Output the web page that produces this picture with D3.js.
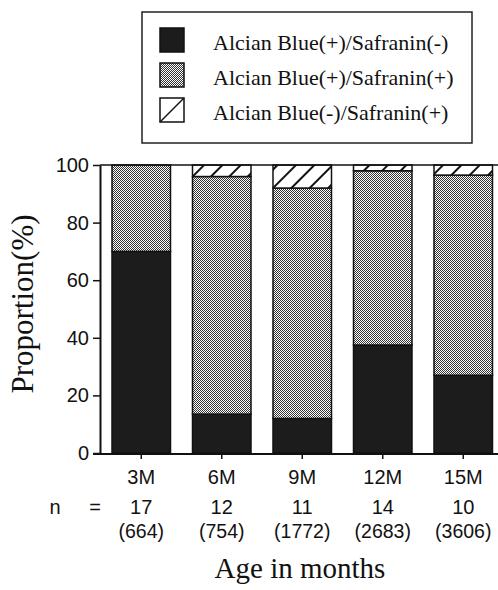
<!DOCTYPE html>
<html>
<head>
<meta charset="utf-8">
<script src="https://cdn.jsdelivr.net/npm/d3@7"></script>
<style>
  html, body { margin: 0; padding: 0; background: #fff; }
  svg { display: block; }
</style>
</head>
<body>
<div id="chart"></div>
<script>
// values (percent of cells)
const months = ['3M', '6M', '9M', '12M', '15M'];
const blueOnly = [70, 13.5, 12, 37.5, 27];      // Alcian Blue(+)/Safranin(-)
const bothPos = [30, 82.5, 80, 60.5, 69.5];     // Alcian Blue(+)/Safranin(+)
const safOnly = [0, 4, 8, 2, 3.5];              // Alcian Blue(-)/Safranin(+)
const nAnimals = [17, 12, 11, 14, 10];
const nCells = [664, 754, 1772, 2683, 3606];
const yTicks = [0, 20, 40, 60, 80, 100];
const legendLabels = [
  'Alcian Blue(+)/Safranin(-)',
  'Alcian Blue(+)/Safranin(+)',
  'Alcian Blue(-)/Safranin(+)'
];

const width = 498, height = 590;
const sans = 'Liberation Sans, Arial, sans-serif';
const serif = 'Liberation Serif, Times New Roman, serif';

const svg = d3.select('#chart').append('svg')
  .attr('width', width)
  .attr('height', height);

const defs = svg.append('defs');

// fine black/white checker for the dotted series
const dots = defs.append('pattern')
  .attr('id', 'dots')
  .attr('patternUnits', 'userSpaceOnUse')
  .attr('width', 2).attr('height', 2);
dots.append('rect').attr('width', 2).attr('height', 2).attr('fill', '#fff');
dots.append('rect').attr('width', 1).attr('height', 1).attr('fill', '#333');
dots.append('rect').attr('x', 1).attr('y', 1).attr('width', 1).attr('height', 1).attr('fill', '#333');

const hatch = defs.append('pattern')
  .attr('id', 'hatch')
  .attr('patternUnits', 'userSpaceOnUse')
  .attr('width', 13).attr('height', 13)
  .attr('patternTransform', 'rotate(45)');
hatch.append('rect').attr('width', 13).attr('height', 13).attr('fill', '#fff');
hatch.append('line')
  .attr('x1', 1).attr('x2', 1).attr('y1', 0).attr('y2', 13)
  .attr('stroke', '#111').attr('stroke-width', 2);

const fills = ['#1c1c1c', 'url(#dots)', 'url(#hatch)'];

const x = d3.scaleBand()
  .domain(months)
  .range([112, 492.5])
  .paddingInner(0.2733)
  .paddingOuter(0);

const y = d3.scaleLinear()
  .domain([0, 100])
  .range([453, 165]);

const rows = months.map((m, i) => ({
  month: m, a: blueOnly[i], b: bothPos[i], c: safOnly[i]
}));
const series = d3.stack().keys(['a', 'b', 'c'])(rows);

// stacked bars
svg.append('g')
  .selectAll('g')
  .data(series)
  .join('g')
  .attr('fill', (d, i) => fills[i])
  .selectAll('rect')
  .data(d => d.filter(s => s[1] - s[0] > 0))
  .join('rect')
  .attr('x', d => x(d.data.month))
  .attr('width', x.bandwidth())
  .attr('y', d => y(d[1]))
  .attr('height', d => y(d[0]) - y(d[1]))
  .attr('stroke', '#111')
  .attr('stroke-width', 1.5);

// frame line along 100% and the baseline
svg.append('line')
  .attr('x1', 100).attr('x2', width)
  .attr('y1', y(100)).attr('y2', y(100))
  .attr('stroke', '#111').attr('stroke-width', 1.5);
svg.append('line')
  .attr('x1', 93).attr('x2', width)
  .attr('y1', y(0) + 1).attr('y2', y(0) + 1)
  .attr('stroke', '#111').attr('stroke-width', 2);

// y axis
const yAxis = svg.append('g')
  .attr('transform', 'translate(100,0)')
  .call(d3.axisLeft(y).tickValues(yTicks).tickSize(7).tickSizeOuter(0).tickPadding(4));
yAxis.select('.domain').attr('stroke', '#111').attr('stroke-width', 2);
yAxis.selectAll('line').attr('stroke', '#111').attr('stroke-width', 1.5);
yAxis.selectAll('text')
  .attr('font-family', sans)
  .attr('font-size', 20)
  .attr('fill', '#111');

// x axis
const xAxis = svg.append('g')
  .attr('transform', `translate(0,${y(0) + 1})`)
  .call(d3.axisBottom(x).tickSize(5).tickSizeOuter(0).tickPadding(11));
xAxis.select('.domain').remove();
xAxis.selectAll('line').attr('stroke', '#111').attr('stroke-width', 1.5);
xAxis.selectAll('text')
  .attr('font-family', sans)
  .attr('font-size', 20)
  .attr('fill', '#111');

// n row
const cx = m => x(m) + x.bandwidth() / 2;
svg.append('text').attr('x', 55).attr('y', 514).attr('text-anchor', 'middle')
  .attr('font-family', sans).attr('font-size', 20).attr('fill', '#111').text('n');
svg.append('text').attr('x', 95).attr('y', 514).attr('text-anchor', 'middle')
  .attr('font-family', sans).attr('font-size', 20).attr('fill', '#111').text('=');
svg.append('g')
  .selectAll('text')
  .data(months)
  .join('text')
  .attr('x', d => cx(d))
  .attr('y', 514)
  .attr('text-anchor', 'middle')
  .attr('font-family', sans).attr('font-size', 20).attr('fill', '#111')
  .text((d, i) => nAnimals[i]);
svg.append('g')
  .selectAll('text')
  .data(months)
  .join('text')
  .attr('x', d => cx(d))
  .attr('y', 538)
  .attr('text-anchor', 'middle')
  .attr('font-family', sans).attr('font-size', 19.5).attr('fill', '#111')
  .text((d, i) => `(${nCells[i]})`);

// axis titles
svg.append('text')
  .attr('x', 300).attr('y', 578)
  .attr('text-anchor', 'middle')
  .attr('font-family', serif).attr('font-size', 29).attr('fill', '#111')
  .text('Age in months');
svg.append('text')
  .attr('transform', `translate(33,${(y(0) + y(100)) / 2 - 5}) rotate(-90)`)
  .attr('text-anchor', 'middle')
  .attr('font-family', serif).attr('font-size', 31).attr('fill', '#111')
  .text('Proportion(%)');

// legend
const legend = svg.append('g');
legend.append('rect')
  .attr('x', 142).attr('y', 12).attr('width', 330).attr('height', 131)
  .attr('fill', '#fff').attr('stroke', '#222').attr('stroke-width', 1.5);
const items = legend.selectAll('g.item')
  .data(legendLabels)
  .join('g')
  .attr('class', 'item')
  .attr('transform', (d, i) => `translate(160,${28 + i * 35})`);
items.append('rect')
  .attr('width', 24).attr('height', 24)
  .attr('fill', (d, i) => i === 2 ? '#fff' : fills[i])
  .attr('stroke', '#111').attr('stroke-width', 1.5);
items.filter((d, i) => i === 2).append('line')
  .attr('x1', 0).attr('y1', 24).attr('x2', 24).attr('y2', 0)
  .attr('stroke', '#111').attr('stroke-width', 1.5);
items.append('text')
  .attr('x', 53).attr('y', 22)
  .attr('font-family', serif).attr('font-size', 22).attr('fill', '#111')
  .text(d => d);
</script>
</body>
</html>
